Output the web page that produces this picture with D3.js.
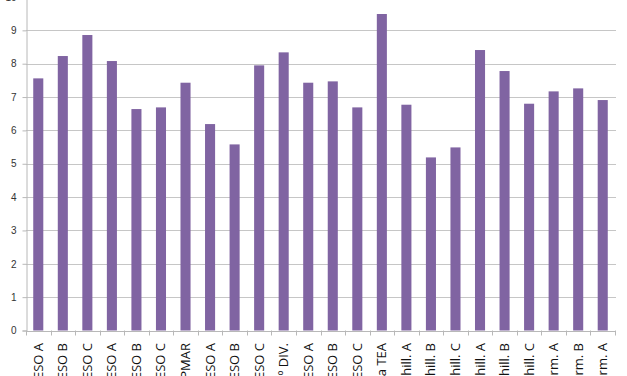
<!DOCTYPE html>
<html>
<head>
<meta charset="utf-8">
<script src="https://cdn.jsdelivr.net/npm/d3@7"></script>
<style>
  body { margin: 0; background: #fff; }
  svg { display: block; }
</style>
</head>
<body>
<script>
  // categories (labels are cut off at the bottom in the original)
  const categories = [
    "1º ESO A", "1º ESO B", "1º ESO C", "2º ESO A", "2º ESO B", "2º ESO C",
    "2º PMAR", "3º ESO A", "3º ESO B", "3º ESO C", "3º DIV.", "4º ESO A",
    "4º ESO B", "4º ESO C", "Aula TEA", "1º Bachill. A", "1º Bachill. B", "1º Bachill. C",
    "2º Bachill. A", "2º Bachill. B", "2º Bachill. C", "1º Form. A", "2º Form. B", "3º Form. A"
  ];
  const shortLabels = [
    "ESO A", "ESO B", "ESO C", "ESO A", "ESO B", "ESO C",
    "PMAR", "ESO A", "ESO B", "ESO C", "º DIV.", "ESO A",
    "ESO B", "ESO C", "a TEA", "hill. A", "hill. B", "hill. C",
    "hill. A", "hill. B", "hill. C", "rm. A", "rm. B", "rm. A"
  ];
  const values = [
    7.56, 8.23, 8.86, 8.08, 6.64, 6.69,
    7.43, 6.19, 5.58, 7.95, 8.34, 7.43,
    7.47, 6.69, 9.49, 6.77, 5.19, 5.49,
    8.41, 7.78, 6.80, 7.17, 7.26, 6.91
  ];
  const yTicks = [0, 1, 2, 3, 4, 5, 6, 7, 8, 9, 10];

  const width = 627, height = 376;
  const plotLeft = 26, plotRight = 615, plotTop = -3, plotBottom = 330.5;

  const svg = d3.select("body").append("svg")
    .attr("width", width)
    .attr("height", height)
    .attr("font-family", "Carlito, 'Liberation Sans', sans-serif");

  const x = d3.scaleBand()
    .domain(d3.range(categories.length))
    .range([plotLeft, plotRight])
    .paddingInner(0.59)
    .paddingOuter(0.295);

  const y = d3.scaleLinear().domain([0, 10]).range([plotBottom, plotTop]);

  // gridlines
  svg.append("g")
    .selectAll("line")
    .data(yTicks.filter(d => d > 0))
    .join("line")
    .attr("x1", plotLeft).attr("x2", plotRight + 1)
    .attr("y1", d => Math.round(y(d)) + 0.5)
    .attr("y2", d => Math.round(y(d)) + 0.5)
    .attr("stroke", "#c6c6c6")
    .attr("stroke-width", 1.2);

  // bars
  svg.append("g")
    .attr("fill", "#8064a2")
    .selectAll("rect")
    .data(values)
    .join("rect")
    .attr("x", (d, i) => x(i))
    .attr("width", x.bandwidth())
    .attr("y", d => y(d))
    .attr("height", d => y(0) - y(d));

  // y axis
  const yAxis = svg.append("g")
    .attr("transform", `translate(${plotLeft + 0.5},0)`)
    .call(d3.axisLeft(y).tickValues(yTicks).tickSize(4).tickPadding(6));
  yAxis.selectAll("line, path").attr("stroke", "#b8b8b8");
  yAxis.selectAll("text").attr("font-size", 10).attr("fill", "#333")
    .attr("font-family", "'Liberation Sans', sans-serif");

  // x axis: line with ticks at band boundaries
  const edges = d3.range(categories.length + 1).map(i => plotLeft + i * x.step());
  svg.append("line")
    .attr("x1", plotLeft).attr("x2", plotRight)
    .attr("y1", Math.round(y(0)) + 0.5).attr("y2", Math.round(y(0)) + 0.5)
    .attr("stroke", "#b8b8b8");
  svg.append("g")
    .selectAll("line")
    .data(edges)
    .join("line")
    .attr("x1", d => Math.round(d) + 0.5).attr("x2", d => Math.round(d) + 0.5)
    .attr("y1", y(0)).attr("y2", y(0) + 5)
    .attr("stroke", "#b8b8b8");

  // rotated category labels
  svg.append("g")
    .selectAll("text")
    .data(shortLabels)
    .join("text")
    .attr("transform", (d, i) => `translate(${x(i) + x.bandwidth() / 2 + 4.5},343) rotate(-90)`)
    .attr("text-anchor", "end")
    .attr("font-size", 13)
    .attr("font-family", "'Open Sans', sans-serif")
    .attr("fill", "#111")
    .text(d => d);
</script>
</body>
</html>
